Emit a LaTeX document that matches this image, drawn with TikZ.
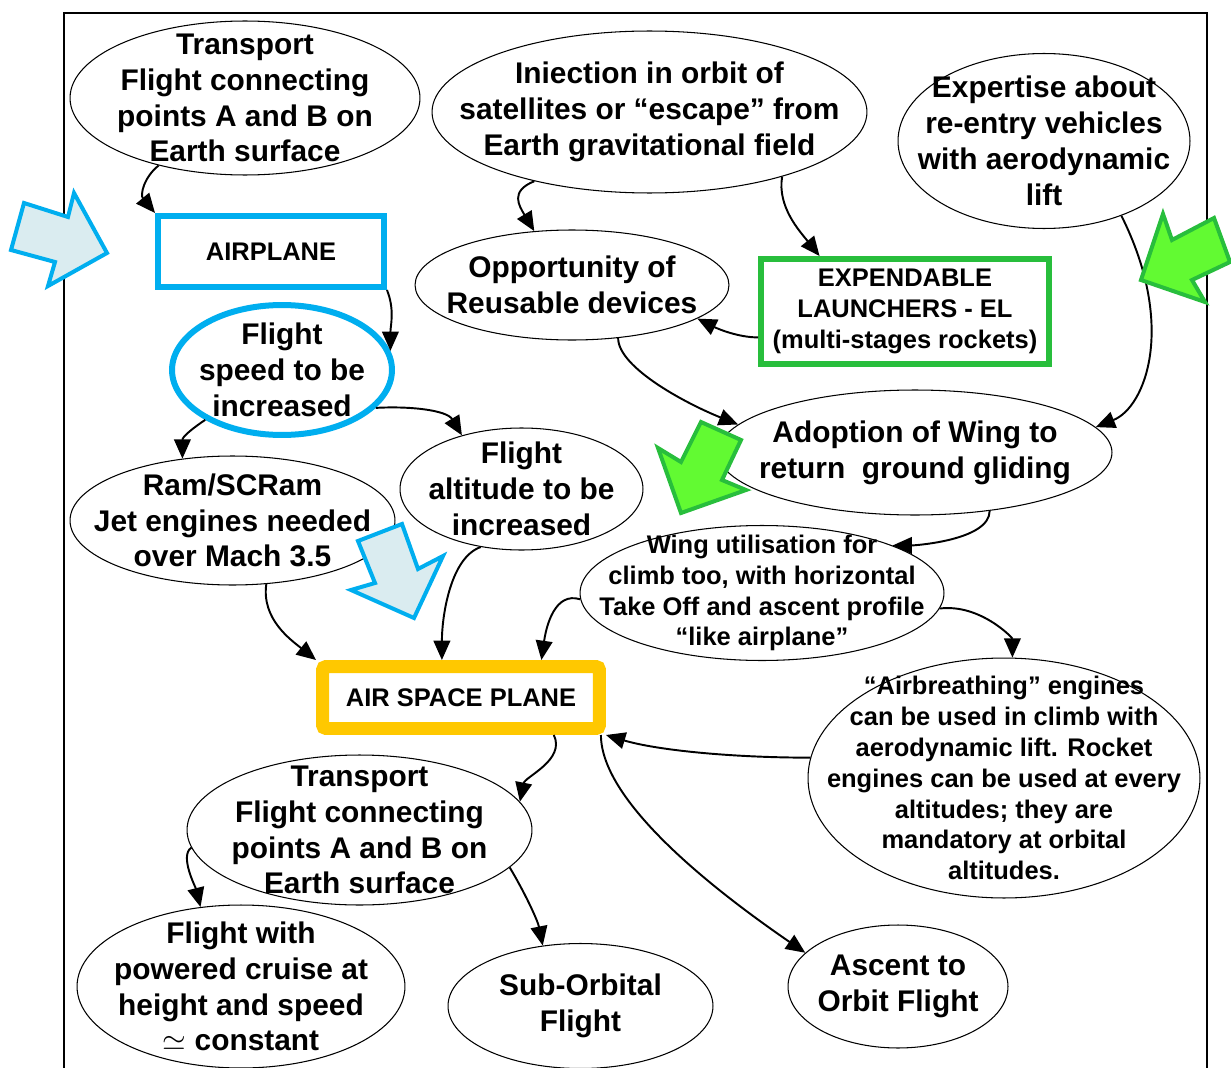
\documentclass[tikz,border=0pt]{standalone}
\usepackage{fontspec}
\setmainfont{Liberation Sans}
\usetikzlibrary{shapes.geometric,arrows.meta}
\definecolor{planecyan}{RGB}{0,174,239}
\definecolor{planecyanfill}{RGB}{218,236,240}
\definecolor{launchgreen}{RGB}{40,190,60}
\definecolor{launchgreenfill}{RGB}{98,250,50}
\definecolor{aspyellow}{RGB}{255,200,0}
\newcommand{\bigtxt}{\fontsize{17}{20.4}\selectfont\bfseries}
\newcommand{\smalltxt}{\fontsize{14.5}{17.6}\selectfont\bfseries}

\begin{document}
\begin{tikzpicture}[x=0.02cm, y=-0.02cm,
    bubble/.style={ellipse, draw, line width=0.6pt, align=center,
        inner xsep=-25pt, inner ysep=-30pt, font=\bigtxt},
    smallbubble/.style={bubble, font=\smalltxt},
    framebox/.style={rectangle, draw, align=center, inner sep=0pt,
        fill=white, font=\smalltxt},
    link/.style={-{Triangle[length=11pt,width=9.5pt]}, line width=1.1pt},
    fatarrow/.style={line width=0.08cm, line join=miter}]

    % Page and frame
    \clip (0,0) rectangle (1231,1068);
    \fill[white] (0,0) rectangle (1231,1068);
    \draw[line width=1.1pt] (64,1068) -- (64,13) -- (1207,13) -- (1207,1068);

    % Top row
    \node[bubble, minimum width=7cm, minimum height=3.08cm] (t1) at (245,98)
        {Transport\\Flight connecting\\points A and B on\\Earth surface};
    \node[bubble, minimum width=8.7cm, minimum height=3.24cm] (inj) at (649.5,112)
        {Iniection in orbit of\\satellites or “escape” from\\Earth gravitational field};
    \node[bubble, minimum width=5.84cm, minimum height=3.5cm] (exp) at (1044,141)
        {Expertise about\\re-entry vehicles\\with aerodynamic\\lift};

    % Airplane branch
    \node[framebox, draw=planecyan, line width=0.12cm,
        minimum width=4.52cm, minimum height=1.42cm] (airplane) at (271,251.5) {AIRPLANE};
    \node[bubble, draw=planecyan, line width=0.12cm,
        minimum width=4.4cm, minimum height=2.6cm] (speed) at (282,370)
        {Flight\\speed to be\\increased};
    \node[bubble, minimum width=4.86cm, minimum height=2.44cm] (alt) at (521.5,489)
        {Flight\\altitude to be\\increased};
    \node[bubble, minimum width=6.5cm, minimum height=2.58cm] (ram) at (232.5,520.5)
        {Ram/SCRam\\Jet engines needed\\over Mach 3.5};

    % Launcher branch
    \node[bubble, minimum width=6.28cm, minimum height=2.2cm] (opp) at (572,285)
        {Opportunity of\\Reusable devices};
    \node[framebox, draw=launchgreen, line width=0.12cm,
        minimum width=5.76cm, minimum height=2.1cm] (el) at (905,311.5)
        {EXPENDABLE\\LAUNCHERS - EL\\(multi-stages rockets)};
    \node[bubble, minimum width=7.88cm, minimum height=2.5cm] (adopt) at (915,452.5)
        {Adoption of Wing to\\return \ ground gliding};
    \node[smallbubble, minimum width=7.28cm, minimum height=2.7cm] (wing) at (762,593)
        {Wing utilisation for\\climb too, with horizontal\\Take Off and ascent profile\\“like airplane”};
    \node[smallbubble, minimum width=7.84cm, minimum height=4.8cm] (airb) at (1004,778)
        {“Airbreathing” engines\\can be used in climb with\\aerodynamic lift. Rocket\\engines can be used at every\\altitudes; they are\\mandatory at orbital\\altitudes.};

    % Air space plane
    \node[framebox, draw=aspyellow, line width=0.26cm, rounded corners=2pt,
        minimum width=5.54cm, minimum height=1.24cm] (asp) at (461,697.5) {AIR SPACE PLANE};
    \node[bubble, minimum width=6.9cm, minimum height=3cm] (t2) at (359.5,830)
        {Transport\\Flight connecting\\points A and B on\\Earth surface};
    \node[bubble, minimum width=6.56cm, minimum height=3.26cm] (cruise) at (241,986.5)
        {Flight with\\powered cruise at\\height and speed\\$\simeq$ constant};
    \node[bubble, minimum width=5.3cm, minimum height=2.5cm] (sub) at (580.5,1006)
        {Sub-Orbital\\Flight};
    \node[bubble, minimum width=4.4cm, minimum height=2.46cm] (asc) at (898,986.5)
        {Ascent to\\Orbit Flight};

    % Connectors
    \draw[link] (t1.218) .. controls +(-15,12) and +(-15,-18) .. (airplane.north west);
    \draw[link] (airplane.south east) .. controls +(8,20) and +(0,-25) .. (speed.10);
    \draw[link] (inj.211) .. controls +(-25,10) and +(-15,-25) .. (opp.125);
    \draw[link] (inj.334) .. controls +(-5,30) and +(-20,-25) .. (el.147);
    \draw[link] (el.190) .. controls +(-20,0) and +(20,10) .. (opp.345);
    \draw[link] (opp.311) .. controls +(0,30) and +(-50,-20) .. (adopt.171);
    \draw[link] (exp.316) .. controls +(55,110) and +(50,-20) .. (adopt.8);
    \draw[link] (speed.213) .. controls +(-12,8) and +(0,-22) .. (ram.129);
    \draw[link] (speed.338) .. controls +(35,-2) and +(-15,-25) .. (alt.138);
    \draw[link] (adopt.322) .. controls +(0,30) and +(20,0) .. (wing.20);
    \draw[link] (ram.298) .. controls +(-5,35) and +(-25,-20) .. (asp.north west);
    \draw[link] (alt.235) .. controls +(-30,10) and +(0,-45) .. (asp.117);
    \draw[link] (wing.182) .. controls +(-25,-8) and +(5,-35) .. (asp.25);
    \draw[link] (wing.355) .. controls +(40,-5) and +(0,-20) .. (airb.86);
    \draw[link] (airb.174) .. controls +(-80,0) and +(50,15) .. (asp.south east);
    \draw[link] (asp.338) .. controls +(12,25) and +(5,-25) .. (t2.10);
    \draw[link] (asp.345) .. controls +(0,70) and +(-80,-55) .. (asc.160);
    \draw[link] (t2.186) .. controls +(-12,8) and +(-5,-20) .. (cruise.117);
    \draw[link] (t2.346) .. controls +(15,25) and +(-5,-25) .. (sub.122);

    % Highlight arrows
    \draw[fatarrow, draw=planecyan, fill=planecyanfill]
        (24,203) -- (68,217) -- (74,193) -- (107,253) -- (48,286) -- (55,262) -- (11,250) -- cycle;
    \draw[fatarrow, draw=planecyan, fill=planecyanfill]
        (402,524) -- (418,569) -- (443,556) -- (414,618) -- (351,590) -- (375,583) -- (358,541) -- cycle;
    \draw[fatarrow, draw=launchgreen, fill=launchgreenfill]
        (701,422) -- (741,440) -- (722,480) -- (746,490) -- (681,513) -- (658,448) -- (681,462) -- cycle;
    \draw[fatarrow, draw=launchgreen, fill=launchgreenfill]
        (1214,218) -- (1172,240) -- (1163,214) -- (1141,280) -- (1205,302) -- (1192,280) -- (1230,262) -- cycle;
\end{tikzpicture}
\end{document}
